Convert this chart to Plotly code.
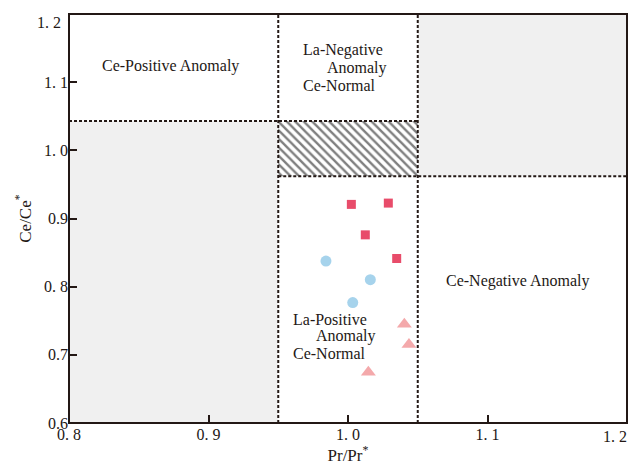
import plotly.graph_objects as go

# Data
square_x = [1.0024, 1.0289, 1.0124, 1.0349]
square_y = [0.9207, 0.9226, 0.876, 0.8413]
circle_x = [0.9842, 1.016, 1.0034]
circle_y = [0.8375, 0.8102, 0.7766]
tri_x = [1.0404, 1.0437, 1.0146]
tri_y = [0.745, 0.715, 0.6744]

x_bounds = [0.95, 1.05]
y_bounds = [0.962, 1.043]
x_ticks = [0.8, 0.9, 1.0, 1.1, 1.2]
x_ticktext = ["0. 8", "0. 9", "1. 0", "1. 1", "1. 2"]
y_ticks = [0.6, 0.7, 0.8, 0.9, 1.0, 1.1, 1.2]
y_ticktext = ["0.6", "0.7", "0. 8", "0.9", "1. 0", "1. 1", "1. 2"]

XMIN, XMAX, YMIN, YMAX = 0.8, 1.2, 0.6, 1.2
INK = "#231815"
GRAY = "#f0f0f0"
FONT = "Liberation Serif"

fig = go.Figure()

# Hatched region
fig.add_trace(go.Scatter(
    x=[x_bounds[0], x_bounds[1], x_bounds[1], x_bounds[0], x_bounds[0]],
    y=[y_bounds[0], y_bounds[0], y_bounds[1], y_bounds[1], y_bounds[0]],
    mode="lines", line=dict(width=0), fill="toself", fillcolor="white",
    fillpattern=dict(shape="\\", fgcolor="#000000", bgcolor="white", size=6, solidity=0.4),
    hoverinfo="skip", showlegend=False))

fig.add_trace(go.Scatter(x=square_x, y=square_y, mode="markers",
    marker=dict(symbol="square", size=9, color="#e84c6a"), showlegend=False))
fig.add_trace(go.Scatter(x=circle_x, y=circle_y, mode="markers",
    marker=dict(symbol="circle", size=11, color="#a6d3ec"), showlegend=False))
fig.add_trace(go.Scatter(x=tri_x, y=tri_y, mode="markers",
    marker=dict(symbol="triangle-up", size=13, color="#f4a9ab"), showlegend=False))

shapes = [
    dict(type="rect", xref="x", yref="y", x0=XMIN, x1=x_bounds[0], y0=YMIN, y1=y_bounds[1],
         fillcolor=GRAY, line=dict(width=0), layer="below"),
    dict(type="rect", xref="x", yref="y", x0=x_bounds[1], x1=XMAX, y0=y_bounds[0], y1=YMAX,
         fillcolor=GRAY, line=dict(width=0), layer="below"),
]
dash = dict(color=INK, width=2, dash="3px,2px")
shapes += [
    dict(type="line", xref="x", yref="y", x0=x_bounds[0], x1=x_bounds[0], y0=YMIN, y1=YMAX, line=dash),
    dict(type="line", xref="x", yref="y", x0=x_bounds[1], x1=x_bounds[1], y0=YMIN, y1=YMAX, line=dash),
    dict(type="line", xref="x", yref="y", x0=XMIN, x1=x_bounds[1], y0=y_bounds[1], y1=y_bounds[1], line=dash),
    dict(type="line", xref="x", yref="y", x0=x_bounds[0], x1=XMAX, y0=y_bounds[0], y1=y_bounds[0], line=dash),
    dict(type="rect", xref="paper", yref="paper", x0=0, x1=1, y0=0, y1=1,
         line=dict(color=INK, width=2)),
]

tf = dict(family=FONT, size=16, color=INK)
ann = []
def add(text, x, y, xanchor="center"):
    ann.append(dict(text=text, x=x, y=y, xref="x", yref="y", showarrow=False,
                    xanchor=xanchor, yanchor="middle", font=tf))
add("Ce-Positive Anomaly", 0.873, 1.124)
add("La-Negative", 0.9665, 1.147, "left")
add("Anomaly", 0.9838, 1.121, "left")
add("Ce-Normal", 0.9665, 1.095, "left")
add("La-Positive", 0.9589, 0.7525, "left")
add("Anomaly", 0.9753, 0.7277, "left")
add("Ce-Normal", 0.9589, 0.7015, "left")
add("Ce-Negative Anomaly", 1.1219, 0.8085)

# end-of-axis tick labels, nudged inward so they stay on the page
ann.append(dict(text=x_ticktext[-1], x=x_ticks[-1], y=0, xref="x", yref="paper",
                showarrow=False, xanchor="right", yanchor="top", xshift=2, yshift=-3,
                font=dict(family=FONT, size=16, color=INK)))
ann.append(dict(text=y_ticktext[-1], x=0, y=y_ticks[-1], xref="paper", yref="y",
                showarrow=False, xanchor="right", yanchor="top", xshift=-6, yshift=2,
                font=dict(family=FONT, size=16, color=INK)))
x_tt = x_ticktext[:-1] + [""]
y_tt = y_ticktext[:-1] + [""]

fig.update_layout(
    width=629, height=470,
    margin=dict(l=69, r=2, t=14, b=47),
    paper_bgcolor="white", plot_bgcolor="white",
    shapes=shapes, annotations=ann,
    font=tf,
    xaxis=dict(range=[XMIN, XMAX], tickvals=x_ticks, ticktext=x_tt,
               ticks="inside", ticklen=8, tickwidth=2, tickcolor=INK,
               showgrid=False, zeroline=False, showline=False, automargin=False,
               ticklabeloverflow="allow",
               tickfont=dict(family=FONT, size=16, color=INK),
               title=dict(text="Pr/Pr<sup>*</sup>", font=dict(family=FONT, size=17, color=INK), standoff=4)),
    yaxis=dict(range=[YMIN, YMAX], tickvals=y_ticks, ticktext=y_tt,
               ticks="inside", ticklen=8, tickwidth=2, tickcolor=INK,
               showgrid=False, zeroline=False, showline=False, automargin=False,
               ticklabeloverflow="allow",
               tickfont=dict(family=FONT, size=16, color=INK),
               title=dict(text="Ce/Ce<sup>*</sup>", font=dict(family=FONT, size=17, color=INK), standoff=8)),
)

fig.write_html("out.html", config={"displayModeBar": False},
               post_script="document.body.style.margin='0';document.body.style.overflow='hidden';")
